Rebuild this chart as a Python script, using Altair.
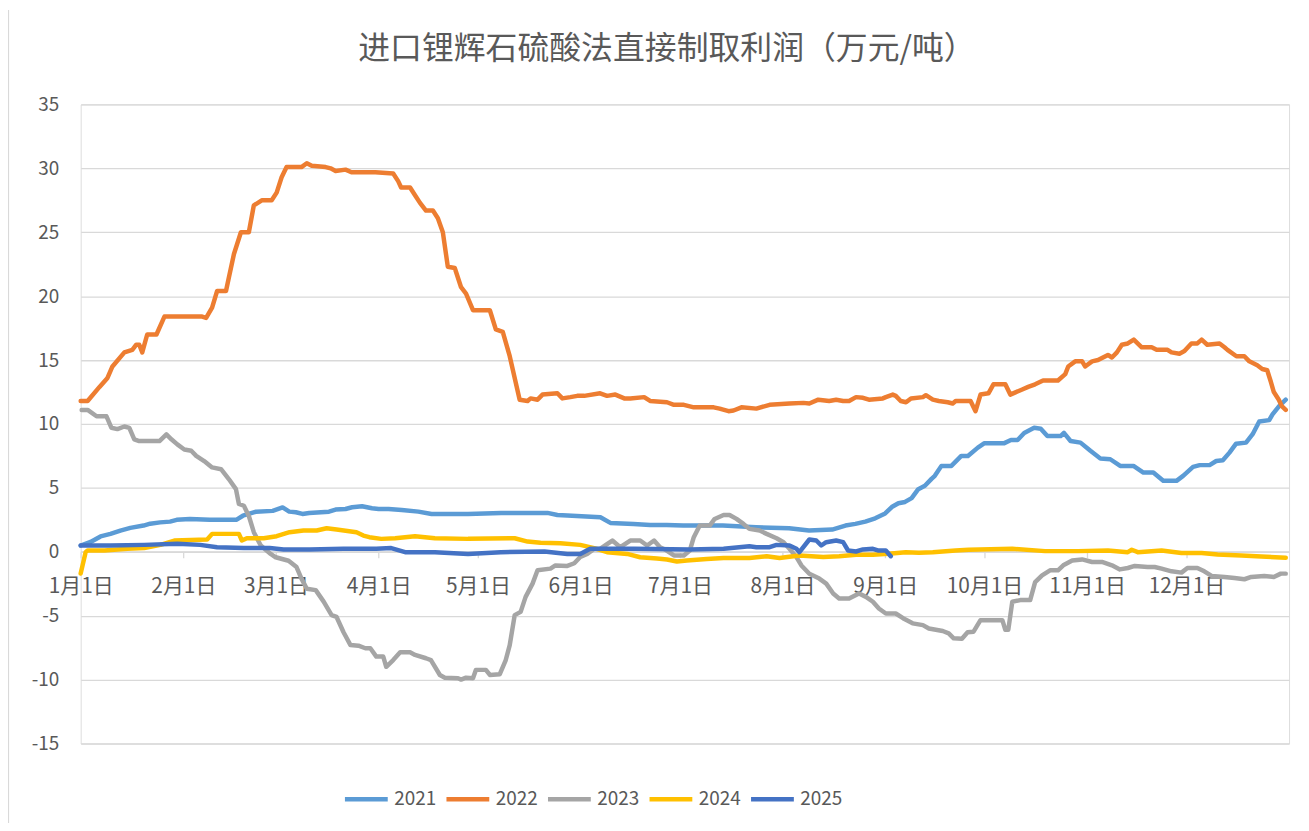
import altair as alt
import pandas as pd

FONT = "Noto Sans CJK SC"
TEXT_COLOR = "#595959"
GRID_COLOR = "#D9D9D9"

title_text = "进口锂辉石硫酸法直接制取利润（万元/吨）"
years = ["2021", "2022", "2023", "2024", "2025"]
colors = ["#5B9BD5", "#ED7D31", "#A5A5A5", "#FFC000", "#4472C4"]
month_days = [0, 31, 59, 90, 120, 151, 181, 212, 243, 273, 304, 334]
month_labels = ["1月1日", "2月1日", "3月1日", "4月1日", "5月1日", "6月1日",
                "7月1日", "8月1日", "9月1日", "10月1日", "11月1日", "12月1日"]
y_ticks = [-15, -10, -5, 0, 5, 10, 15, 20, 25, 30, 35]

# (day of year, profit)
s2021 = [(0, 0.49), (3, 0.77), (6, 1.2), (9, 1.4), (12, 1.66), (15, 1.87), (19, 2.05), (21, 2.2),
         (24, 2.3), (27, 2.36), (29, 2.5), (33, 2.57), (39, 2.5), (47, 2.5), (49, 2.82), (53, 3.14),
         (58, 3.2), (61, 3.47), (63, 3.14), (65, 3.09), (67, 2.96), (69, 3.04), (75, 3.14), (77, 3.3),
         (80, 3.35), (82, 3.48), (85, 3.56), (88, 3.4), (90, 3.35), (93, 3.35), (97, 3.27), (102, 3.14),
         (106, 2.96), (110, 2.96), (117, 2.96), (127, 3.04), (141, 3.04), (144, 2.88), (147, 2.83),
         (157, 2.7), (160, 2.26), (167, 2.18), (172, 2.1), (177, 2.1), (182, 2.05), (194, 2.05),
         (204, 1.92), (214, 1.84), (220, 1.66), (227, 1.74), (231, 2.05), (234, 2.18), (237, 2.36),
         (240, 2.62), (243, 3.0), (245, 3.5), (247, 3.8), (249, 3.9), (251, 4.2), (253, 4.9),
         (255, 5.16), (257, 5.7), (258, 5.94), (260, 6.72), (263, 6.72), (266, 7.5), (268, 7.5),
         (271, 8.15), (273, 8.5), (279, 8.5), (281, 8.74), (283, 8.74), (285, 9.3), (288, 9.7),
         (290, 9.63), (292, 9.05), (296, 9.05), (297, 9.3), (299, 8.67), (302, 8.54), (305, 7.9),
         (308, 7.3), (311, 7.24), (314, 6.72), (318, 6.72), (321, 6.2), (324, 6.2), (327, 5.55),
         (331, 5.55), (333, 5.94), (336, 6.64), (338, 6.78), (341, 6.78), (343, 7.1), (345, 7.16),
         (347, 7.76), (349, 8.46), (352, 8.54), (354, 9.2), (356, 10.2), (359, 10.3), (360, 10.75),
         (362, 11.4), (364, 11.9)]

s2022 = [(0, 11.8), (2.1, 11.8), (5.7, 12.9), (8.1, 13.6), (9.6, 14.5), (13.2, 15.6), (15.6, 15.8),
         (16.8, 16.2), (17.7, 16.2), (18.6, 15.6), (20.1, 17.0), (22.9, 17.0), (25.3, 18.4),
         (36.7, 18.4), (37.9, 18.3), (39.7, 19.1), (41.2, 20.4), (43.9, 20.4), (44.8, 21.5),
         (46.3, 23.3), (48.4, 25.0), (50.8, 25.0), (52.3, 27.1), (54.7, 27.5), (57.7, 27.5),
         (59.2, 28.1), (60.7, 29.3), (62.2, 30.1), (66.7, 30.1), (68.3, 30.4), (69.8, 30.2),
         (74.0, 30.1), (75.5, 30.0), (77.0, 29.8), (80.0, 29.9), (81.8, 29.7), (89.0, 29.7),
         (94.4, 29.6), (95.9, 29.0), (96.8, 28.5), (99.5, 28.5), (101.0, 27.9), (102.5, 27.3),
         (104.3, 26.7), (106.4, 26.7), (107.9, 26.1), (109.4, 25.0), (110.9, 22.3), (113.0, 22.2),
         (114.9, 20.7), (116.4, 20.2), (118.5, 18.9), (123.6, 18.9), (125.4, 17.4), (127.5, 17.2),
         (129.6, 15.3), (132.6, 11.9), (135.0, 11.8), (135.9, 12.0), (138.0, 11.9), (139.5, 12.3),
         (144.0, 12.4), (145.5, 12.0), (147.9, 12.1), (150.0, 12.2), (152.1, 12.2), (156.9, 12.4),
         (159.0, 12.2), (161.5, 12.3), (164.2, 12.0), (166.0, 12.0), (170.2, 12.1), (172.0, 11.8),
         (177.1, 11.7), (179.2, 11.5), (182.2, 11.5), (185.2, 11.3), (191.2, 11.3), (193.0, 11.2),
         (195.7, 11.0), (197.2, 11.05), (199.6, 11.3), (204.1, 11.2), (208.1, 11.5), (214.1, 11.6),
         (218.3, 11.65), (220.1, 11.6), (222.8, 11.9), (226.1, 11.8), (228.2, 11.9), (230.3, 11.8),
         (232.1, 11.8), (234.2, 12.1), (236.3, 12.05), (238.1, 11.9), (242.3, 12.0), (243.2, 12.1),
         (245.3, 12.3), (246.2, 12.2), (247.7, 11.8), (249.3, 11.7), (250.8, 12.0), (254.4, 12.1),
         (255.3, 12.25), (257.4, 11.9), (259.2, 11.8), (261.9, 11.7), (263.4, 11.6), (264.3, 11.8),
         (267.3, 11.8), (268.8, 11.8), (270.3, 11.0), (271.8, 12.3), (274.2, 12.4), (275.7, 13.1),
         (279.3, 13.1), (280.8, 12.3), (284.4, 12.7), (286.2, 12.9), (288.3, 13.1), (290.7, 13.4),
         (295.2, 13.4), (297.4, 13.9), (298.3, 14.5), (300.4, 14.9), (302.5, 14.9), (303.4, 14.5),
         (305.5, 14.9), (307.3, 15.0), (310.3, 15.4), (311.5, 15.2), (313.0, 15.6), (314.5, 16.2),
         (316.3, 16.3), (318.1, 16.6), (320.5, 16.0), (323.5, 16.0), (325.0, 15.8), (328.3, 15.8),
         (329.5, 15.6), (331.9, 15.5), (333.4, 15.7), (335.5, 16.3), (337.3, 16.3), (338.6, 16.6),
         (340.3, 16.2), (344.0, 16.3), (345.5, 16.0), (346.4, 15.8), (349.1, 15.3), (351.5, 15.3),
         (353.0, 14.9), (355.4, 14.6), (356.9, 14.3), (358.4, 14.2), (359.5, 13.3), (360.4, 12.5),
         (361.9, 11.9), (362.8, 11.4), (364, 11.1)]

s2023 = [(0.3, 11.1), (2.1, 11.1), (4.8, 10.6), (7.8, 10.6), (9.3, 9.7), (11.1, 9.6), (13.2, 9.8),
         (14.7, 9.7), (16.2, 8.8), (17.7, 8.66), (23.8, 8.66), (25.9, 9.18), (27.4, 8.8), (29.2, 8.4),
         (31.3, 8.0), (33.4, 7.9), (34.9, 7.5), (37.3, 7.1), (39.7, 6.6), (42.4, 6.46), (44.8, 5.67),
         (46.9, 4.9), (47.8, 3.74), (49.3, 3.6), (50.8, 2.8), (52.3, 1.53), (54.4, 0.49), (57.4, -0.17),
         (58.9, -0.43), (62.8, -0.7), (65.2, -1.2), (66.7, -2.1), (68.3, -2.9), (71.0, -3.0),
         (73.4, -3.9), (75.8, -4.96), (77.3, -5.1), (79.4, -6.3), (81.5, -7.3), (83.9, -7.35),
         (86.0, -7.55), (87.5, -7.55), (89.3, -8.2), (91.4, -8.2), (92.3, -9.0), (94.4, -8.47),
         (96.5, -7.87), (99.5, -7.87), (101.0, -8.07), (104.3, -8.33), (105.8, -8.47), (108.5, -9.64),
         (110.0, -9.85), (114.0, -9.9), (114.9, -10.0), (116.4, -9.85), (118.5, -9.9), (119.4, -9.24),
         (122.4, -9.24), (123.6, -9.64), (126.6, -9.58), (128.4, -8.47), (129.6, -7.3), (131.1, -4.96),
         (132.9, -4.7), (134.4, -3.53), (136.5, -2.49), (138.0, -1.45), (141.9, -1.32), (143.4, -1.07),
         (147.0, -1.11), (149.1, -0.9), (150.9, -0.41), (153.0, -0.17), (155.1, 0.22), (156.9, 0.22),
         (159.0, 0.6), (160.6, 0.88), (163.0, 0.36), (166.0, 0.88), (169.0, 0.88), (171.1, 0.49),
         (173.2, 0.88), (175.0, 0.36), (176.2, 0.22), (179.2, -0.29), (182.2, -0.29), (184.0, 0.1),
         (185.2, 1.14), (187.0, 2.05), (190.0, 2.05), (191.5, 2.57), (194.2, 2.88), (196.0, 2.88),
         (198.1, 2.57), (200.2, 2.18), (202.0, 1.79), (205.1, 1.66), (207.2, 1.4), (210.2, 1.06),
         (212.3, 0.75), (214.1, 0.23), (216.2, -0.41), (217.7, -1.07), (220.1, -1.72), (223.1, -2.1),
         (225.2, -2.49), (227.3, -3.27), (229.1, -3.66), (232.1, -3.66), (235.1, -3.27), (237.2, -3.53),
         (239.3, -3.91), (241.1, -4.44), (243.2, -4.83), (246.2, -4.83), (248.4, -5.2), (251.3, -5.6),
         (254.4, -5.74), (256.2, -6.0), (258.3, -6.1), (260.4, -6.2), (262.2, -6.38), (263.7, -6.77),
         (266.2, -6.8), (267.9, -6.3), (269.7, -6.25), (271.8, -5.35), (278.4, -5.35), (279.3, -6.1),
         (280.2, -6.1), (281.4, -3.91), (283.8, -3.78), (286.8, -3.78), (288.3, -2.37), (290.4, -1.84),
         (292.8, -1.45), (295.2, -1.45), (296.8, -1.06), (299.5, -0.68), (302.5, -0.6), (305.5, -0.8),
         (308.5, -0.8), (311.5, -1.06), (313.9, -1.38), (316.3, -1.27), (318.4, -1.11), (322.3, -1.19),
         (324.4, -1.19), (326.5, -1.32), (329.5, -1.53), (332.5, -1.63), (334.3, -1.27), (337.3, -1.27),
         (339.4, -1.53), (341.6, -1.89), (345.5, -1.97), (348.5, -2.05), (351.5, -2.15), (353.6, -1.97),
         (357.5, -1.89), (360.4, -1.97), (362.5, -1.71), (364, -1.71)]

s2024 = [(0, -1.7), (1.5, -0.03), (2.1, 0.1), (7.2, 0.1), (14.1, 0.23), (19.2, 0.29), (24.1, 0.54),
         (28.3, 0.88), (38.2, 0.96), (39.7, 1.4), (47.8, 1.4), (48.7, 0.88), (50.2, 1.06), (55.3, 1.06),
         (59.2, 1.22), (63.1, 1.53), (67.3, 1.66), (71.3, 1.66), (74.3, 1.84), (77.3, 1.74), (83.3, 1.53),
         (85.4, 1.27), (87.2, 1.14), (90.8, 1.01), (95.0, 1.06), (101.0, 1.22), (107.0, 1.06),
         (117.0, 1.01), (131.1, 1.06), (135.0, 0.8), (138.9, 0.7), (144.9, 0.67), (150.9, 0.54),
         (155.1, 0.29), (159.0, -0.03), (165.1, -0.17), (169.0, -0.43), (174.1, -0.53), (177.1, -0.6),
         (180.1, -0.76), (183.1, -0.68), (189.1, -0.56), (194.2, -0.49), (202.0, -0.49), (207.2, -0.35),
         (211.1, -0.49), (217.1, -0.29), (224.3, -0.41), (229.1, -0.35), (234.2, -0.23), (239.3, -0.23),
         (244.1, -0.16), (249.2, -0.03), (253.2, -0.08), (257.4, -0.03), (264.3, 0.1), (268.2, 0.16),
         (281.4, 0.23), (291.3, 0.05), (301.3, 0.05), (310.3, 0.1), (316.3, -0.03), (317.5, 0.16),
         (319.3, -0.03), (326.5, 0.1), (332.5, -0.1), (338.6, -0.1), (343.4, -0.21), (350.6, -0.29),
         (356.6, -0.37), (364, -0.47)]

s2025 = [(0, 0.49), (9.0, 0.49), (19.2, 0.54), (29.2, 0.62), (36.1, 0.54), (41.2, 0.36), (49.3, 0.29),
         (57.1, 0.29), (61.3, 0.18), (69.2, 0.18), (79.4, 0.23), (89.3, 0.23), (93.8, 0.29), (98.0, -0.03),
         (107.0, -0.03), (117.0, -0.17), (126.9, -0.03), (140.1, 0.02), (147.0, -0.17), (150.9, -0.17),
         (153.9, 0.23), (167.2, 0.23), (184.0, 0.18), (194.2, 0.23), (202.0, 0.43), (204.1, 0.36),
         (208.1, 0.36), (210.2, 0.54), (214.1, 0.49), (216.2, 0.23), (217.1, -0.03), (220.1, 0.96),
         (222.2, 0.88), (223.7, 0.49), (225.2, 0.75), (228.2, 0.88), (230.3, 0.75), (231.8, 0.1),
         (234.2, 0.02), (236.3, 0.18), (239.3, 0.23), (240.8, 0.1), (243.2, 0.1), (244.7, -0.35)]

series = [s2021, s2022, s2023, s2024, s2025]
rows = []
for order, (yr, pts) in enumerate(zip(years, series)):
    for d, v in pts:
        rows.append({"year": yr, "day": d, "value": v, "k": order})
df = pd.DataFrame(rows)

W = 1214
H = 642
x_axis_offset = -(H * 15 / 50)  # puts the category axis on y = 0

label_expr = ("[" + ",".join("'" + l + "'" for l in month_labels) + "][indexof(["
              + ",".join(str(d) for d in month_days) + "], datum.value)]")

lines = alt.Chart(df).mark_line(strokeWidth=4.5, strokeJoin="round", strokeCap="round").encode(
    x=alt.X("day:Q",
            scale=alt.Scale(domain=[0, 365], nice=False, zero=False),
            axis=alt.Axis(values=month_days, labelExpr=label_expr, title=None, grid=False,
                          domainColor=GRID_COLOR, domainWidth=1.3, tickColor=GRID_COLOR,
                          tickWidth=1.3, tickSize=6, labelFontSize=21, labelColor=TEXT_COLOR,
                          labelFont=FONT, labelPadding=18, labelFlush=False,
                          labelOverlap=False, offset=x_axis_offset)),
    y=alt.Y("value:Q",
            scale=alt.Scale(domain=[-15, 35], nice=False, zero=False),
            axis=alt.Axis(values=y_ticks, labelExpr="'' + datum.value", title=None,
                          domain=False, ticks=False,
                          gridColor=GRID_COLOR, gridWidth=1.3, labelFontSize=19,
                          labelColor=TEXT_COLOR, labelFont=FONT, labelPadding=22)),
    color=alt.Color("year:N", scale=alt.Scale(domain=years, range=colors),
                    legend=alt.Legend(orient="none", legendX=263, legendY=674,
                                      direction="horizontal", title=None,
                                      symbolType="stroke", symbolSize=1849,
                                      symbolStrokeWidth=4.5, labelFontSize=19,
                                      labelFont=FONT, labelColor=TEXT_COLOR,
                                      labelOffset=4, columnPadding=0)),
    order=alt.Order("k:Q"),
    detail="year:N",
)

# chart-area border on the left edge, as in the source
border = alt.Chart(pd.DataFrame({"a": [0]})).mark_rule(color=GRID_COLOR, strokeWidth=1.2).encode(
    x=alt.value(-72.5), y=alt.value(-95), y2=alt.value(H + 80)
)

chart = alt.layer(border, lines).properties(
    width=W, height=H,
    title=alt.TitleParams(title_text, fontSize=32, color=TEXT_COLOR, font=FONT,
                          fontWeight="normal", anchor="middle", frame="group",
                          dx=-18, offset=-57),
    autosize=alt.AutoSizeParams(type="none"),
    padding={"left": 73, "top": 95, "right": 12, "bottom": 80},
).configure_view(strokeWidth=0).configure(background="white")

chart.save("out.html", embed_options={"renderer": "svg", "actions": False})
